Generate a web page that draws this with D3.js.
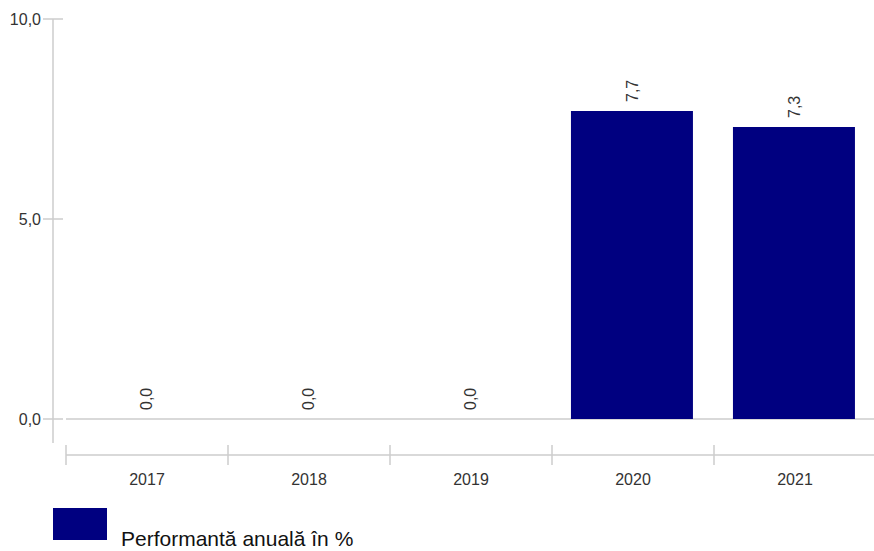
<!DOCTYPE html>
<html><head><meta charset="utf-8">
<script src="https://cdn.jsdelivr.net/npm/d3@7"></script>
<style>body{margin:0;background:#fff}svg{display:block}text{font-family:Arial,"Liberation Sans",sans-serif}</style>
</head><body>
<script>
const categories = ["2017","2018","2019","2020","2021"];
const values = [0.0, 0.0, 0.0, 7.7, 7.3];
const yTicks = [0, 5, 10];
const seriesName = "Performantă anuală în %";

const W = 874, H = 551;
const svg = d3.select("body").append("svg").attr("width", W).attr("height", H);
const fmt = v => d3.format(".1f")(v).replace(".", ",");
const axisColor = "#cccccc", textColor = "#333333", barColor = "#000080";

const x = d3.scaleBand().domain(categories).range([66, 876]).paddingInner(0).paddingOuter(0);
const y = d3.scaleLinear().domain([0, 10]).range([419, 19]);
const padL = 0.117, widthFrac = 0.753;

// y axis
svg.append("line").attr("x1", 53).attr("x2", 53).attr("y1", 19).attr("y2", 443).attr("stroke", axisColor).attr("stroke-width", 1.5);
yTicks.forEach(t => {
  svg.append("line").attr("x1", 43).attr("x2", 63).attr("y1", y(t)).attr("y2", y(t)).attr("stroke", axisColor).attr("stroke-width", 1.5);
  svg.append("text").attr("x", 41).attr("y", y(t)).attr("dy", "0.35em").attr("text-anchor", "end")
    .attr("font-size", 16).attr("fill", textColor).text(fmt(t));
});
// baseline
svg.append("line").attr("x1", 66).attr("x2", 874).attr("y1", y(0)).attr("y2", y(0)).attr("stroke", axisColor).attr("stroke-width", 1.5);

// x axis
svg.append("line").attr("x1", 66).attr("x2", 874).attr("y1", 455).attr("y2", 455).attr("stroke", axisColor).attr("stroke-width", 1.5);
categories.forEach(c => {
  svg.append("line").attr("x1", x(c)).attr("x2", x(c)).attr("y1", 445).attr("y2", 465).attr("stroke", axisColor).attr("stroke-width", 1.5);
  svg.append("text").attr("x", x(c) + x.bandwidth()/2).attr("y", 485).attr("text-anchor", "middle")
    .attr("font-size", 16).attr("fill", textColor).text(c);
});

// bars
const bw = x.bandwidth();
svg.selectAll("rect.bar").data(values).enter().append("rect").attr("class", "bar")
  .attr("x", (d, i) => x(categories[i]) + bw*padL)
  .attr("width", bw*widthFrac)
  .attr("y", d => y(d))
  .attr("height", d => y(0) - y(d))
  .attr("fill", barColor);

// labels
svg.selectAll("text.val").data(values).enter().append("text").attr("class", "val")
  .attr("transform", (d, i) => `translate(${x(categories[i]) + bw*(padL + widthFrac/2)},${y(d) - 9}) rotate(-90)`)
  .attr("dy", "0.35em").attr("text-anchor", "start")
  .attr("font-size", 16).attr("fill", textColor).text(d => fmt(d));

// legend
svg.append("rect").attr("x", 53).attr("y", 508).attr("width", 54).attr("height", 32).attr("fill", barColor);
svg.append("text").attr("x", 121).attr("y", 546).attr("font-size", 21).attr("fill", "#111").text(seriesName);
</script>
</body></html>
